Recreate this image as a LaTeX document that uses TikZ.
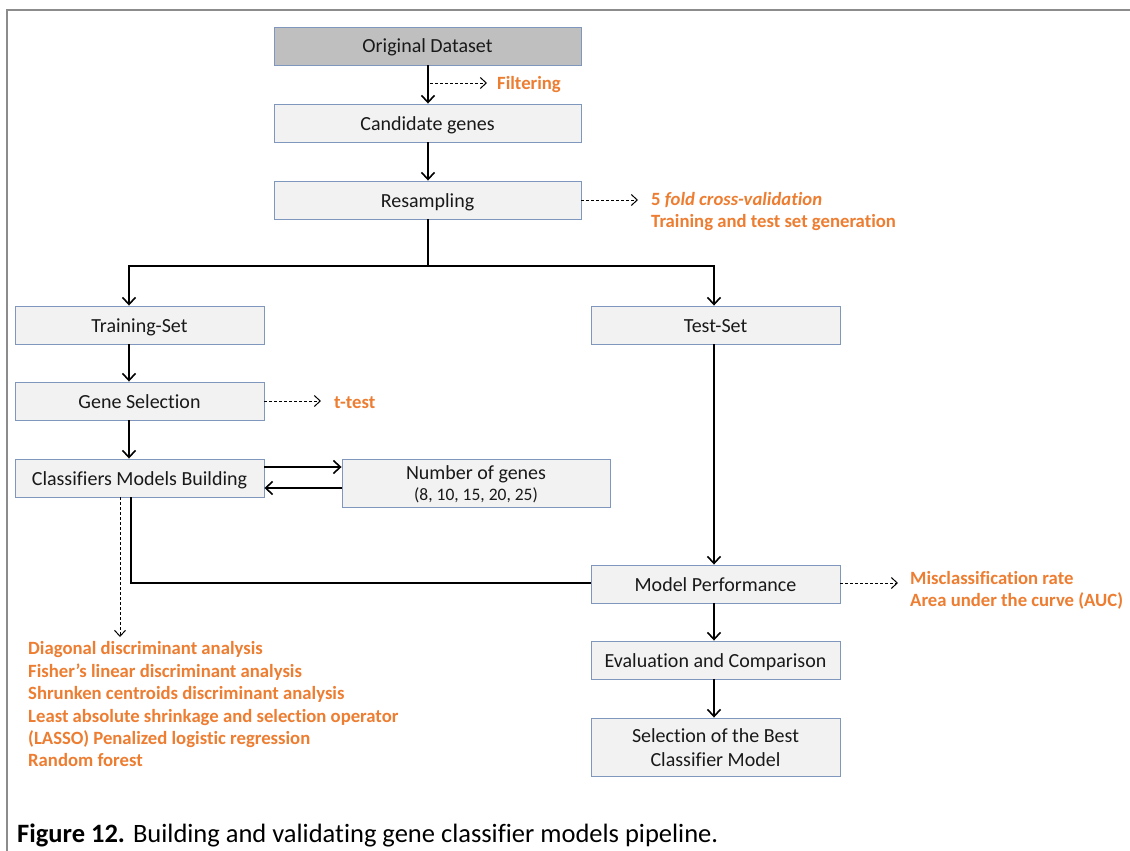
\documentclass[tikz,border=0pt]{standalone}
\usepackage{fontspec}
\setmainfont{Carlito}[Ligatures={NoCommon}]
\usetikzlibrary{arrows.meta}
\definecolor{boxfill}{HTML}{F2F2F2}
\definecolor{topfill}{HTML}{BFBFBF}
\definecolor{boxline}{HTML}{7F97BD}
\definecolor{orng}{HTML}{ED7D31}
\definecolor{framegray}{HTML}{8C8C8C}
\tikzset{
  box/.style={draw=boxline, line width=0.9pt, fill=boxfill, minimum width=307pt, minimum height=38pt, inner sep=0pt, font=\fontsize{20}{24}\selectfont, text=black!90, align=center},
  onebox/.style={box, text height=15pt, text depth=1pt},
  sbox/.style={onebox, minimum width=249pt},
  flow/.style={line width=1.8pt, -{Straight Barb[length=7pt,width=13pt,line width=1.6pt]}},
  plain/.style={line width=1.8pt},
  note/.style={line width=0.9pt, densely dashed, -{Straight Barb[length=6pt,width=11pt,line width=1pt]}},
  lbl/.style={anchor=west, text=orng, font=\fontsize{18.7}{22.4}\selectfont\bfseries, align=left, inner sep=0pt}
}
\begin{document}
\begin{tikzpicture}[x=1pt,y=-1pt]
\useasboundingbox (0,0) rectangle (1130,851);
\fill[white] (0,0) rectangle (1130,851);
\draw[framegray, line width=2pt] (7,851) -- (7,10) -- (1130,10);

% boxes
\node[onebox, fill=topfill] (orig) at (427.5,46) {Original Dataset};
\node[onebox] (cand) at (427.5,123) {Candidate genes};
\node[onebox] (resamp) at (427.5,200) {Resampling};
\node[sbox] (train) at (139.5,325) {Training-Set};
\node[sbox] (test) at (715.5,325) {Test-Set};
\node[sbox] (gene) at (139.5,401) {Gene Selection};
\node[sbox] (clf) at (139.5,478) {Classifiers Models Building};
\node[box, minimum width=268pt, minimum height=48pt] (num) at (476,483) {\rule{0pt}{16pt}Number of genes\\[-3pt]{\fontsize{17.5}{20}\selectfont(8, 10, 15, 20, 25)}};
\node[sbox] (perf) at (715.5,584) {Model Performance};
\node[sbox] (eval) at (715.5,660) {Evaluation and Comparison};
\node[box, minimum width=249pt, minimum height=58pt, font=\fontsize{20}{24}\selectfont] (best) at (715.5,747) {\rule{0pt}{16pt}Selection of the Best\\Classifier Model};

% coordinates
\coordinate (split) at (428,266);
\coordinate (splitL) at (129,266);
\coordinate (splitR) at (714,266);
\coordinate (clfdown) at (131,583);
\coordinate (filt) at (487,83);
\coordinate (resN) at (638,200);
\coordinate (genN) at (321,401);
\coordinate (perfN) at (898,583);
\coordinate (clfN) at (120,637);

% main flow
\draw[flow] (orig.south -| 428,0) -- (cand.north -| 428,0);
\draw[flow] (cand.south -| 428,0) -- (resamp.north -| 428,0);
\draw[plain] (resamp.south -| 428,0) -- (split);
\draw[flow] (splitL) -- (splitR) -- (test.north -| splitR);
\draw[flow] (split) -- (splitL) -- (train.north -| splitL);
\draw[flow] (train.south -| 129,0) -- (gene.north -| 129,0);
\draw[flow] (gene.south -| 129,0) -- (clf.north -| 129,0);
\draw[flow] (clf.east |- 0,467) -- (num.west |- 0,467);
\draw[flow] (num.west |- 0,488) -- (clf.east |- 0,488);
\draw[plain] (clf.south -| clfdown) -- (clfdown) -- (perf.west |- clfdown);
\draw[flow] (test.south -| 714,0) -- (perf.north -| 714,0);
\draw[flow] (perf.south -| 714,0) -- (eval.north -| 714,0);
\draw[flow] (eval.south -| 714,0) -- (best.north -| 714,0);

% side notes
\draw[note] (430,83) -- (filt);
\node[lbl] (filtL) at (497,85) {Filtering};
\draw[note] (resamp.east) -- (resN);
\node[lbl] (resL) at (651,211.5) {5 \textit{fold cross-validation}\\Training and test set generation};
\draw[note] (gene.east) -- (genN);
\node[lbl] (genL) at (334,403) {t-test};
\draw[note] (perf.east |- perfN) -- (perfN);
\node[lbl] (perfL) at (910,590.5) {Misclassification rate\\Area under the curve (AUC)};
\draw[note] (clf.south -| clfN) -- (clfN);
\node[lbl, anchor=north west] (clfL) at (28,641.5) {Diagonal discriminant analysis\\Fisher’s linear discriminant analysis\\Shrunken centroids discriminant analysis\\Least absolute shrinkage and selection operator\\(LASSO) Penalized logistic regression\\Random forest};

% caption
\node[anchor=west, inner sep=0pt, font=\fontsize{26.5}{30}\selectfont] (cap) at (17,835) {\textbf{Figure 12.} Building and validating gene classifier models pipeline.};
\end{tikzpicture}
\end{document}
